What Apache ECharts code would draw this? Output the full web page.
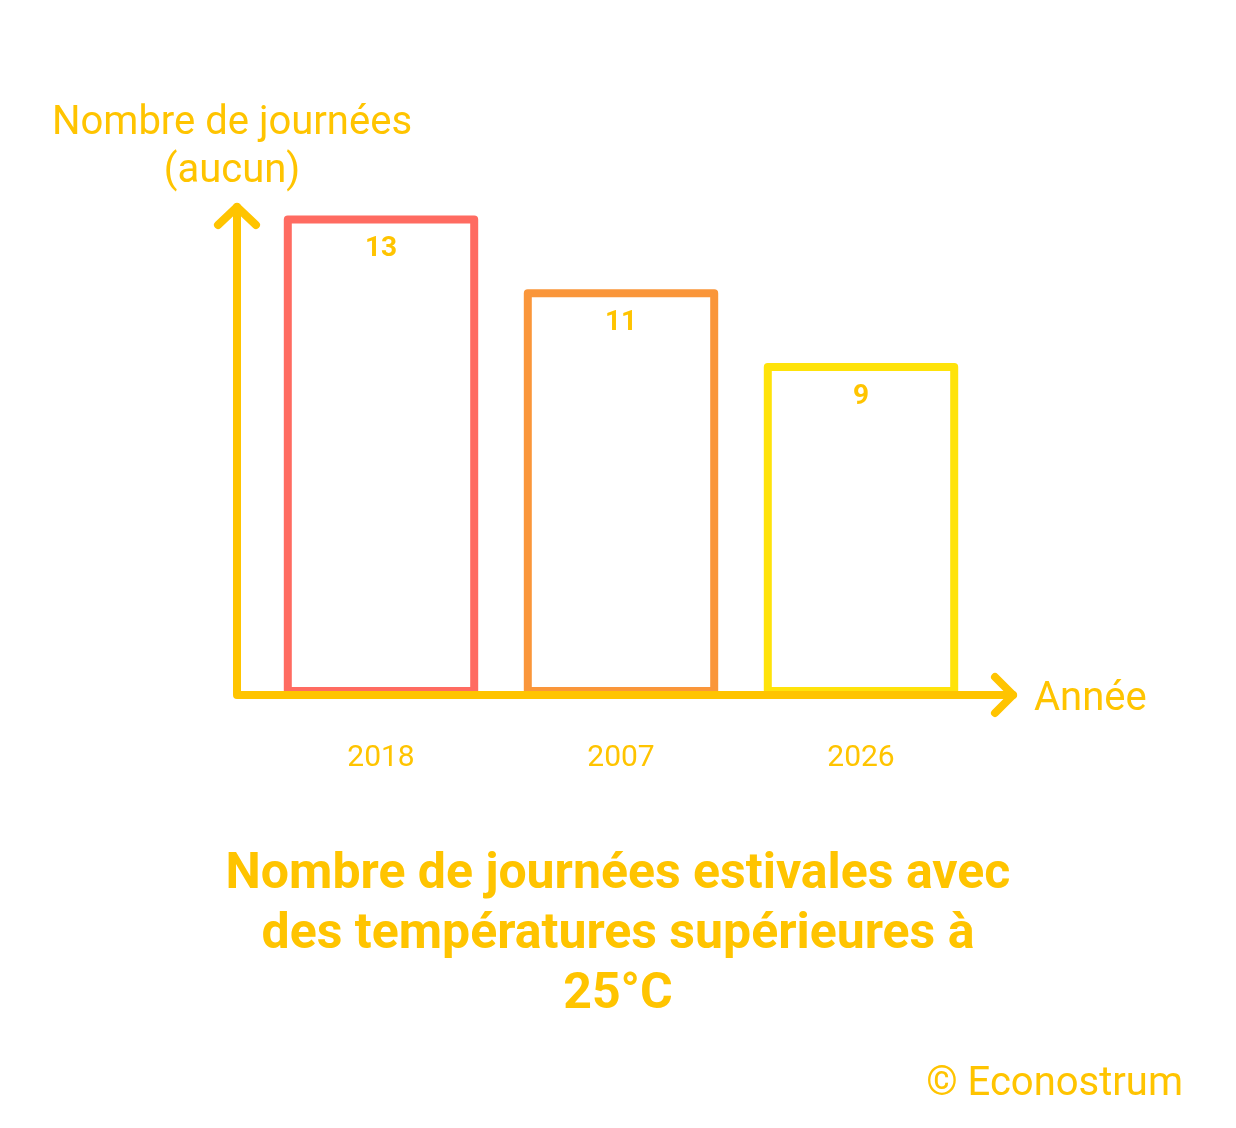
<!DOCTYPE html>
<html>
<head>
<meta charset="utf-8">
<script src="https://cdn.jsdelivr.net/npm/echarts@6/dist/echarts.min.js"></script>
<style>
  html, body { margin: 0; padding: 0; background: #fff; }
  #main { width: 1236px; height: 1128px; }
</style>
</head>
<body>
<div id="main"></div>
<script>
// données
var years = ['2018', '2007', '2026'];
var days = [13, 11, 9];
var barColors = ['#FF6B61', '#FA963A', '#FFE30A'];

var gold = '#FFC400';
var chart = echarts.init(document.getElementById('main'));

var option = {
    backgroundColor: '#fff',
    textStyle: { fontFamily: 'Roboto' },
    title: [{
        text: 'Nombre de journées estivales avec\ndes températures supérieures à\n25°C',
        left: 'center',
        top: 840,
        textStyle: {
            color: gold,
            fontFamily: 'Roboto',
            fontWeight: 'bold',
            fontSize: 50,
            lineHeight: 60
        }
    }, {
        text: '© Econostrum',
        right: 48,
        top: 1060,
        textStyle: {
            color: gold,
            fontFamily: 'Roboto',
            fontWeight: 'normal',
            fontSize: 40
        }
    }],
    grid: { left: 261, right: 255, top: 197, bottom: 433 },
    xAxis: {
        type: 'category',
        data: years,
        axisLine: { show: false },
        axisTick: { show: false },
        axisLabel: { color: gold, fontSize: 30, margin: 48 },
        name: '{a|Année}',
        nameLocation: 'end',
        nameGap: 53,
        nameTextStyle: {
            color: gold, fontSize: 40, verticalAlign: 'middle',
            rich: { a: { color: gold, fontSize: 40, fontFamily: 'Roboto', padding: [10, 0, 0, 0] } }
        }
    },
    yAxis: {
        type: 'value',
        min: 0,
        max: 13.5,
        offset: 29,
        axisLine: { show: false },
        axisTick: { show: false },
        axisLabel: { show: false },
        splitLine: { show: false },
        name: 'Nombre de journées\n(aucun)',
        nameLocation: 'end',
        nameGap: 1,
        nameTextStyle: { color: gold, fontSize: 40, lineHeight: 48, align: 'center' }
    },
    series: [{
        type: 'bar',
        barWidth: '81%',
        data: days.map(function (v, i) {
            return {
                value: v,
                itemStyle: {
                    color: 'rgba(255,255,255,0)',
                    borderColor: barColors[i],
                    borderWidth: 8,
                    borderJoin: 'round'
                }
            };
        }),
        label: {
            show: true,
            position: 'insideTop',
            distance: 20,
            color: gold,
            fontWeight: 'bold',
            fontSize: 28
        },
        z: 2
    }]
};
chart.setOption(option);

// axes dessinés à la main (flèches ouvertes)
var c0 = chart.convertToPixel({ xAxisIndex: 0 }, 0);
var c1 = chart.convertToPixel({ xAxisIndex: 0 }, 1);
var y0 = chart.convertToPixel({ yAxisIndex: 0 }, 0);
var x0 = c0 - (c1 - c0) / 2 - 24;
var yTop = y0 - 488, xEnd = 1013;
var lineStyle = { stroke: gold, lineWidth: 8, lineCap: 'round', lineJoin: 'round', fill: null };
chart.setOption({
    graphic: [
        { type: 'polyline', z: 10, shape: { points: [[x0, yTop], [x0, y0], [xEnd, y0]] }, style: lineStyle },
        { type: 'polyline', z: 10, shape: { points: [[x0 - 19, yTop + 18], [x0, yTop], [x0 + 19, yTop + 18]] }, style: lineStyle },
        { type: 'polyline', z: 10, shape: { points: [[xEnd - 18, y0 - 18], [xEnd, y0], [xEnd - 18, y0 + 18]] }, style: lineStyle }
    ]
});
</script>
</body>
</html>
